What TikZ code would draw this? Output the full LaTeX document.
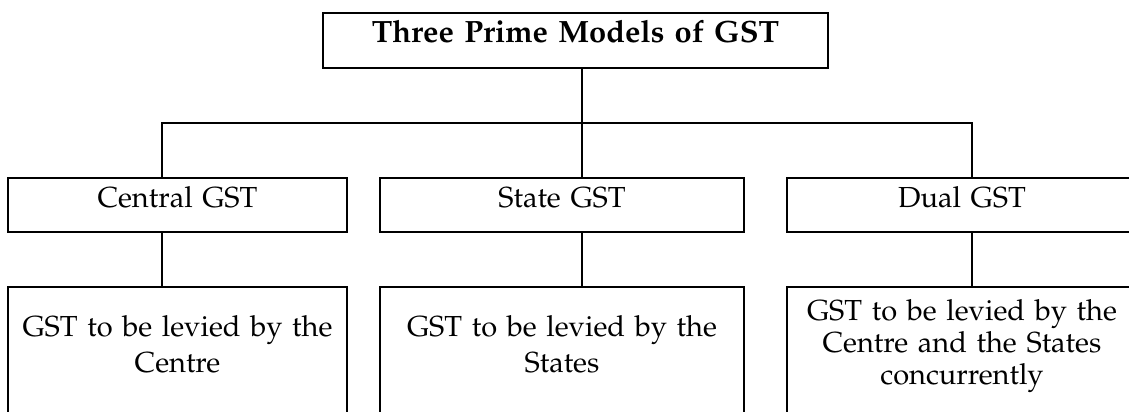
\documentclass[tikz,border=0pt]{standalone}
\usepackage[T1]{fontenc}
\usepackage{mathpazo}
\usepackage{tikz}

\begin{document}
\begin{tikzpicture}[x=0.5pt, y=-0.5pt, line width=1pt]
  \useasboundingbox (0,0) rectangle (1129,412);
  \clip (0,0) rectangle (1129,412);
  \begin{scope}[every node/.style={draw, inner sep=0, outer sep=0, anchor=north, align=center, font=\fontsize{14.5}{18}\selectfont}, head/.style={text height=14.5pt, text depth=13pt, font=\fontsize{15.4}{18}\selectfont\bfseries}, model/.style={text height=14.5pt, text depth=12.5pt}, levy/.style={text height=24.5pt, text depth=100pt}]
    \node [head, text width=252.5pt] (G) at (575.5,13) {Three Prime Models of GST};
    \node [model, text width=169.5pt] (C) at (177.5,178) {Central GST};
    \node [model, text width=182pt] (S) at (562,178) {State GST};
    \node [model, text width=175pt] (D) at (962,178) {Dual GST};
    \node [levy, text width=169.5pt] (CL) at (177.5,287) {GST to be levied by the\\Centre};
    \node [levy, text width=182pt] (SL) at (562,287) {GST to be levied by the\\States};
    \node [levy, text width=175pt, text height=16.5pt, font=\fontsize{14.5}{16}\selectfont] (DL) at (962,287) {GST to be levied by the\\Centre and the States\\concurrently};
    \coordinate (J1) at (162,123);
    \coordinate (J2) at (582,123);
    \coordinate (J3) at (972,123);
    \draw (G.south -| J2) -- (S.north -| J2);
    \draw (C.north -| J1) -- (J1) -- (J3) -- (D.north -| J3);
    \foreach \a/\b/\j in {C/CL/J1, S/SL/J2, D/DL/J3} {\draw (\a.south -| \j) -- (\b.north -| \j);};
  \end{scope}
\end{tikzpicture}
\end{document}
